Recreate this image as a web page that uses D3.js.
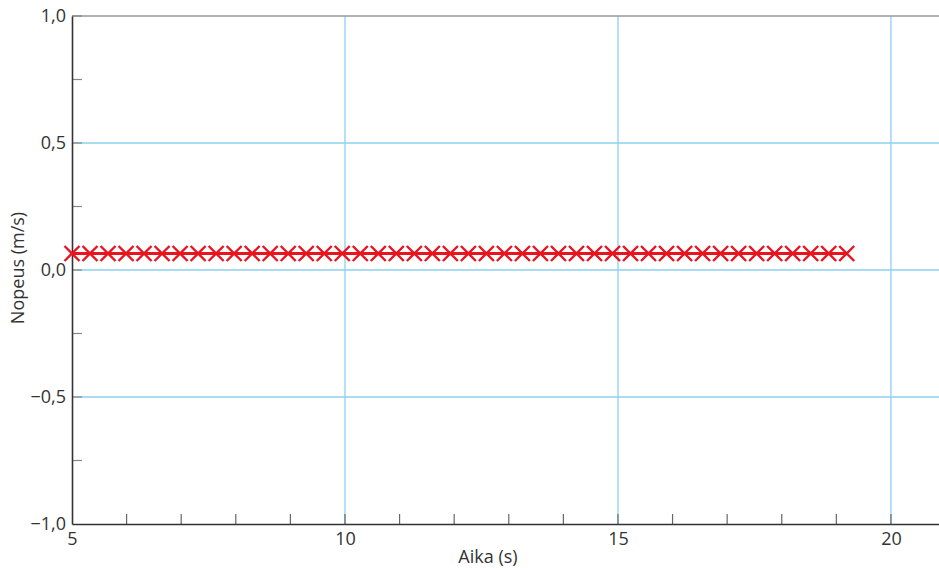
<!DOCTYPE html>
<html><head><meta charset="utf-8">
<script src="https://cdn.jsdelivr.net/npm/d3@7"></script>
<style>body{margin:0;background:#fff}svg{display:block}text{font-family:"Open Sans",sans-serif;fill:#333}</style>
</head><body><svg id="c" width="939" height="570"></svg>
<script>
const times = [5.00,5.33,5.66,5.99,6.32,6.65,6.98,7.31,7.64,7.97,8.30,8.63,8.96,9.29,9.62,9.95,10.28,10.61,10.94,11.27,11.60,11.93,12.26,12.59,12.92,13.25,13.58,13.91,14.24,14.57,14.90,15.23,15.56,15.89,16.22,16.55,16.88,17.21,17.54,17.87,18.20,18.53,18.86,19.19];
const speeds = [0.065,0.065,0.065,0.065,0.065,0.065,0.065,0.065,0.065,0.065,0.065,0.065,0.065,0.065,0.065,0.065,0.065,0.065,0.065,0.065,0.065,0.065,0.065,0.065,0.065,0.065,0.065,0.065,0.065,0.065,0.065,0.065,0.065,0.065,0.065,0.065,0.065,0.065,0.065,0.065,0.065,0.065,0.065,0.065];
const xMajor = [5,10,15,20];
const xMinor = [6,7,8,9,11,12,13,14,16,17,18,19,20];
const yMajor = [-1,-0.5,0,0.5,1];
const yMinor = [-0.75,-0.25,0.25,0.75];
const yLabels = ["\u22121,0","\u22120,5","0,0","0,5","1,0"];
const xTitle = "Aika (s)", yTitle = "Nopeus (m/s)";

const svg = d3.select("#c");
const x = d3.scaleLinear().domain([5, 20.88]).range([72, 939]);
const y = d3.scaleLinear().domain([-1, 1]).range([524, 16]);
const grid = "#8dd0ef";
const fs = "18px";

// grid
svg.selectAll(".gx").data(xMajor.filter(d=>d>5)).join("line")
  .attr("x1",d=>x(d)).attr("x2",d=>x(d)).attr("y1",y(1)).attr("y2",y(-1))
  .attr("stroke",grid).attr("stroke-width",1.3);
svg.selectAll(".gy").data([-0.5,0,0.5]).join("line")
  .attr("x1",x(5)).attr("x2",939).attr("y1",d=>y(d)).attr("y2",d=>y(d))
  .attr("stroke",grid).attr("stroke-width",1.3);

// top border
svg.append("line").attr("x1",x(5)).attr("x2",939).attr("y1",y(1)).attr("y2",y(1))
  .attr("stroke","#999").attr("stroke-width",1.5);

// minor/major ticks (inward)
svg.selectAll(".tx").data(xMinor.concat([10,15])).join("line")
  .attr("x1",d=>x(d)).attr("x2",d=>x(d)).attr("y1",y(-1)).attr("y2",y(-1)-10)
  .attr("stroke","#666").attr("stroke-width",1.2);
svg.selectAll(".ty").data(yMinor.concat([-0.5,0,0.5,1])).join("line")
  .attr("x1",x(5)).attr("x2",x(5)+10).attr("y1",d=>y(d)).attr("y2",d=>y(d))
  .attr("stroke","#888").attr("stroke-width",1.2);

// axes
const xAxis = d3.axisBottom(x).tickValues(xMajor).tickSize(0).tickPadding(8).tickFormat(d3.format("d"));
const gx = svg.append("g").attr("transform",`translate(0,${y(-1)})`).call(xAxis);
gx.select(".domain").attr("stroke","#333").attr("stroke-width",1.6);
gx.selectAll("text").style("font-size",fs).attr("fill","#333").attr("font-family","Open Sans");

const yAxis = d3.axisLeft(y).tickValues(yMajor).tickSize(0).tickPadding(6).tickFormat((d,i)=>yLabels[i]);
const gy = svg.append("g").attr("transform",`translate(${x(5)},0)`).call(yAxis);
gy.select(".domain").attr("stroke","#333").attr("stroke-width",1.6);
gy.selectAll("text").style("font-size",fs).attr("fill","#333").attr("font-family","Open Sans");

// titles
svg.append("text").attr("x",488).attr("y",563).attr("text-anchor","middle")
  .style("font-size",fs).text(xTitle);
svg.append("text").attr("transform","translate(24,268) rotate(-90)").attr("text-anchor","middle")
  .style("font-size",fs).text(yTitle);

// data
const red = "#e8141f";
const pts = times.map((t,i)=>({t, v:speeds[i]}));
svg.append("path").datum(pts)
  .attr("d", d3.line().x(d=>x(d.t)).y(d=>y(d.v)))
  .attr("fill","none").attr("stroke",red).attr("stroke-width",3);
const hw = 7.5, hh = 7.5;
svg.selectAll(".m").data(pts).join("path")
  .attr("d", d=>{const cx=x(d.t), cy=y(d.v);
    return `M${cx-hw},${cy-hh}L${cx+hw},${cy+hh}M${cx-hw},${cy+hh}L${cx+hw},${cy-hh}`;})
  .attr("stroke",red).attr("stroke-width",2.4).attr("fill","none");
</script></body></html>
